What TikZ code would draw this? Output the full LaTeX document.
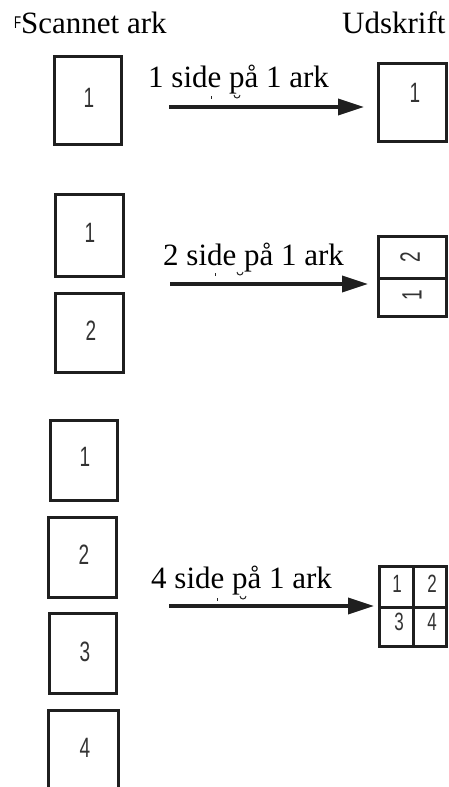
\documentclass[tikz,border=0pt]{standalone}
\usepackage{fontspec}
\setmainfont{Liberation Serif}
\newfontfamily\numfont[FakeStretch=0.68]{Liberation Sans}
\usetikzlibrary{arrows.meta}
\begin{document}
\begin{tikzpicture}[x=1pt,y=-1pt,
  page/.style={draw=black!88, line width=3pt, inner sep=0pt, outer sep=0pt},
  num/.style={font=\numfont\fontsize{28}{28}\selectfont, inner sep=0pt, text=black!80},
  gnum/.style={font=\numfont\fontsize{25}{25}\selectfont, inner sep=0pt, text=black!80},
  lbl/.style={font=\fontsize{31}{31}\selectfont, anchor=base west, inner sep=0pt},
  tickmark/.style={draw=black!85, line width=1pt},
  conv/.style={line width=3.5pt, draw=black!88, -{Triangle[length=26pt,width=16pt]}},
  gridline/.style={draw=black!88, line width=3pt}
]
\useasboundingbox (0,0) rectangle (449,787);
\clip (0,0) rectangle (449,787);

% headers
\node[lbl] (hF) at (14,28) {\numfont\fontsize{17}{17}\selectfont F};
\node[lbl] (hs) at (21,33) {Scannet ark};
\node[lbl] (hu) at (342,33) {Udskrift};

% ---------- row 1 ----------
\node[page, minimum width=67pt, minimum height=88pt] (s1) at (88,100.5) {};
\node[num] (s1n) at (89,98) {1};
\node[page, minimum width=68pt, minimum height=78pt] (r1) at (412.5,102.5) {};
\node[num] (r1n) at (415,93) {1};
\coordinate (a1s) at (169,107);
\coordinate (a1e) at (364,107);
\draw[conv] (a1s) -- (a1e);
\node[lbl] (l1) at (148,87) {1 side på 1 ark};
\draw[tickmark] (211,96) -- (211,99);
\draw[tickmark] (234,95) arc[start angle=180, end angle=360, radius=3pt];

% ---------- row 2 ----------
\node[page, minimum width=68pt, minimum height=82pt] (s2a) at (89.5,235.5) {};
\node[num] (s2an) at (90,233) {1};
\node[page, minimum width=68pt, minimum height=79pt] (s2b) at (89.5,333) {};
\node[num] (s2bn) at (91,331) {2};
\node[page, minimum width=68pt, minimum height=80pt] (r2) at (412.5,276.5) {};
\draw[gridline] (r2.west |- 0,278) -- (r2.east |- 0,278);
\node[num, rotate=90] (r2a) at (410,257) {2};
\node[num, rotate=90] (r2b) at (412,295) {1};
\coordinate (a2s) at (170,284);
\coordinate (a2e) at (368,284);
\draw[conv] (a2s) -- (a2e);
\node[lbl] (l2) at (163,265) {2 side på 1 ark};
\draw[tickmark] (215,273) -- (215,276);
\draw[tickmark] (237,272) arc[start angle=180, end angle=360, radius=3pt];

% ---------- row 3 ----------
\node[page, minimum width=67pt, minimum height=80pt] (t1) at (84,460.5) {};
\node[num] (t1n) at (85,457) {1};
\node[page, minimum width=68pt, minimum height=80pt] (t2) at (82.5,557.5) {};
\node[num] (t2n) at (84,555) {2};
\node[page, minimum width=67pt, minimum height=80pt] (t3) at (83,653.5) {};
\node[num] (t3n) at (85,652) {3};
\node[page, minimum width=70pt, minimum height=100pt] (t4) at (83.5,760.5) {};
\node[num] (t4n) at (85,748) {4};
\node[page, minimum width=67pt, minimum height=80pt] (r3) at (413,606.5) {};
\draw[gridline] (r3.north |- 0,565) -- (r3.south |- 0,648);
\draw[gridline] (r3.west |- 0,607) -- (r3.east |- 0,607);
\node[gnum] (g1) at (397,584) {1};
\node[gnum] (g2) at (432,584) {2};
\node[gnum] (g3) at (399,622) {3};
\node[gnum] (g4) at (432,622) {4};
\coordinate (a3s) at (169,606);
\coordinate (a3e) at (374,606);
\draw[conv] (a3s) -- (a3e);
\node[lbl] (l3) at (151,588) {4 side på 1 ark};
\draw[tickmark] (217,598) -- (217,601);
\draw[tickmark] (240,596) arc[start angle=180, end angle=360, radius=3pt];
\end{tikzpicture}
\end{document}
